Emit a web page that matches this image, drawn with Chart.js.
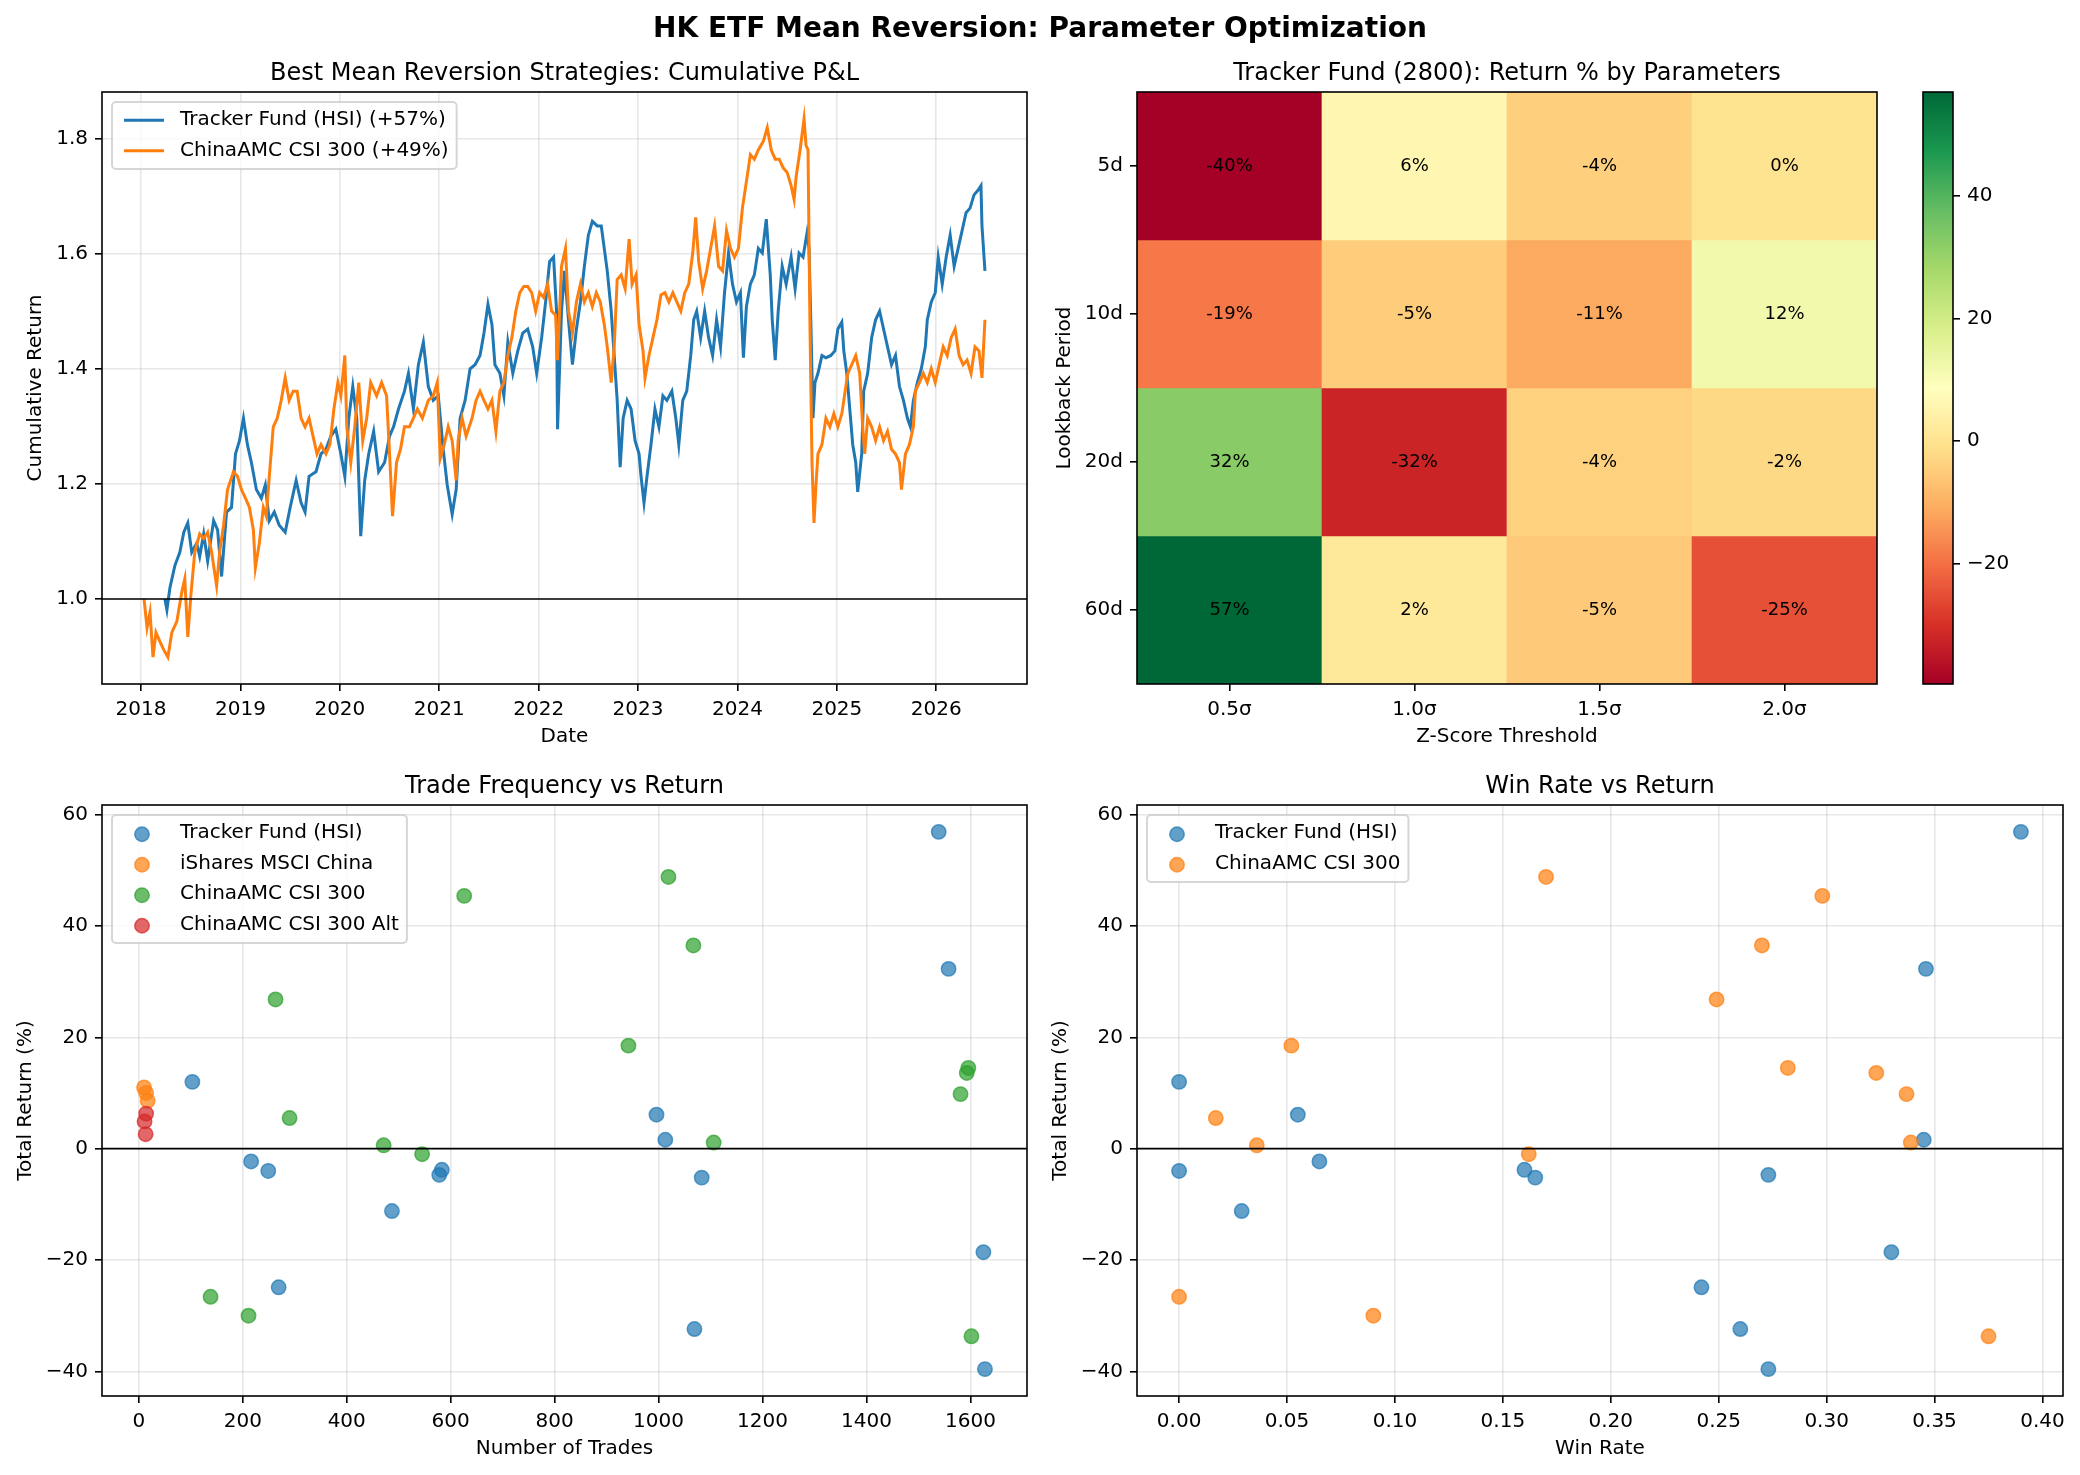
<!DOCTYPE html>
<html>
<head>
<meta charset="utf-8">
<title>HK ETF Mean Reversion: Parameter Optimization</title>
<script src="https://cdn.jsdelivr.net/npm/chart.js@4.4.1/dist/chart.umd.min.js"></script>
<style>
  body { margin: 0; background: #fff; }
  #fig { position: relative; width: 2080px; height: 1475px; }
  #fig canvas { position: absolute; left: 0; top: 0; }
</style>
</head>
<body>
<div id="fig">
  <canvas id="pnl" width="2080" height="1475"></canvas>
  <canvas id="heat" width="2080" height="1475"></canvas>
  <canvas id="cbar" width="2080" height="1475"></canvas>
  <canvas id="freq" width="2080" height="1475"></canvas>
  <canvas id="winrate" width="2080" height="1475"></canvas>
</div>
<script>
// ---- data ----

// cumulative P&L, [decimal year, cumulative return]
const trackerPnl = [
  [2018.24,1.000],[2018.26,0.981],[2018.29,1.019],[2018.34,1.058],[2018.39,1.081],[2018.43,1.116],[2018.47,1.132],
  [2018.51,1.081],[2018.56,1.097],[2018.59,1.074],[2018.63,1.113],[2018.67,1.066],[2018.73,1.136],[2018.77,1.120],
  [2018.81,1.039],[2018.86,1.151],[2018.91,1.159],[2018.95,1.252],[2018.99,1.275],[2019.03,1.314],[2019.07,1.268],
  [2019.11,1.237],[2019.16,1.190],[2019.21,1.175],[2019.25,1.198],[2019.29,1.136],[2019.34,1.151],[2019.39,1.128],
  [2019.45,1.116],[2019.50,1.159],[2019.56,1.206],[2019.61,1.167],[2019.65,1.151],[2019.69,1.213],[2019.76,1.221],
  [2019.81,1.252],[2019.86,1.260],[2019.91,1.283],[2019.96,1.295],[2020.01,1.252],[2020.05,1.213],[2020.09,1.314],
  [2020.13,1.369],[2020.17,1.314],[2020.21,1.109],[2020.25,1.206],[2020.29,1.252],[2020.34,1.291],[2020.39,1.221],
  [2020.45,1.237],[2020.50,1.283],[2020.54,1.299],[2020.59,1.330],[2020.65,1.361],[2020.69,1.392],[2020.74,1.330],
  [2020.79,1.407],[2020.84,1.446],[2020.89,1.369],[2020.94,1.345],[2020.99,1.353],[2021.04,1.260],[2021.08,1.198],
  [2021.13,1.147],[2021.17,1.190],[2021.21,1.314],[2021.26,1.345],[2021.31,1.400],[2021.36,1.407],[2021.41,1.423],
  [2021.45,1.462],[2021.49,1.512],[2021.53,1.477],[2021.56,1.407],[2021.61,1.392],[2021.65,1.353],[2021.69,1.446],
  [2021.74,1.392],[2021.79,1.431],[2021.84,1.462],[2021.89,1.469],[2021.94,1.438],[2021.98,1.392],[2022.03,1.454],
  [2022.07,1.516],[2022.11,1.586],[2022.15,1.594],[2022.18,1.500],[2022.19,1.295],[2022.23,1.500],[2022.26,1.570],
  [2022.30,1.485],[2022.34,1.407],[2022.38,1.469],[2022.42,1.516],[2022.46,1.578],[2022.50,1.632],[2022.54,1.656],
  [2022.59,1.648],[2022.63,1.648],[2022.66,1.609],[2022.69,1.570],[2022.73,1.500],[2022.76,1.423],[2022.79,1.345],
  [2022.82,1.229],[2022.85,1.314],[2022.89,1.345],[2022.93,1.330],[2022.97,1.275],[2023.01,1.252],[2023.03,1.213],
  [2023.06,1.167],[2023.09,1.213],[2023.13,1.268],[2023.17,1.330],[2023.21,1.299],[2023.25,1.353],[2023.29,1.345],
  [2023.34,1.361],[2023.38,1.314],[2023.41,1.268],[2023.45,1.345],[2023.49,1.361],[2023.53,1.423],[2023.56,1.485],
  [2023.59,1.500],[2023.63,1.454],[2023.67,1.500],[2023.71,1.454],[2023.75,1.423],[2023.79,1.485],[2023.83,1.438],
  [2023.87,1.532],[2023.91,1.601],[2023.95,1.547],[2023.99,1.516],[2024.03,1.532],[2024.06,1.419],[2024.09,1.508],
  [2024.13,1.547],[2024.17,1.563],[2024.21,1.609],[2024.25,1.601],[2024.29,1.660],[2024.33,1.563],[2024.35,1.485],
  [2024.38,1.415],[2024.41,1.500],[2024.45,1.578],[2024.49,1.547],[2024.54,1.594],[2024.58,1.539],[2024.62,1.601],
  [2024.66,1.594],[2024.70,1.636],[2024.72,1.609],[2024.74,1.469],[2024.76,1.314],[2024.78,1.376],[2024.81,1.392],
  [2024.85,1.423],[2024.89,1.419],[2024.94,1.423],[2024.98,1.431],[2025.01,1.469],[2025.05,1.481],[2025.07,1.431],
  [2025.10,1.392],[2025.13,1.330],[2025.16,1.268],[2025.19,1.237],[2025.21,1.186],[2025.25,1.252],[2025.27,1.361],
  [2025.31,1.392],[2025.35,1.454],[2025.39,1.485],[2025.43,1.500],[2025.47,1.469],[2025.51,1.438],[2025.55,1.407],
  [2025.59,1.423],[2025.63,1.369],[2025.67,1.345],[2025.71,1.314],[2025.74,1.299],[2025.77,1.345],[2025.81,1.376],
  [2025.85,1.400],[2025.89,1.438],[2025.91,1.485],[2025.95,1.516],[2025.99,1.532],[2026.02,1.594],[2026.06,1.547],
  [2026.10,1.594],[2026.14,1.632],[2026.18,1.578],[2026.22,1.609],[2026.26,1.640],[2026.30,1.671],[2026.34,1.679],
  [2026.38,1.702],[2026.42,1.710],[2026.45,1.718],[2026.46,1.648],[2026.49,1.570]
];
const csiPnl = [
  [2018.03,1.000],[2018.06,0.950],[2018.09,0.977],[2018.12,0.899],[2018.15,0.942],[2018.19,0.926],[2018.23,0.911],
  [2018.27,0.899],[2018.31,0.942],[2018.36,0.961],[2018.41,1.012],[2018.44,1.035],[2018.47,0.934],[2018.50,1.004],
  [2018.54,1.081],[2018.59,1.113],[2018.63,1.105],[2018.67,1.116],[2018.71,1.081],[2018.76,1.023],[2018.79,1.081],
  [2018.83,1.128],[2018.87,1.190],[2018.93,1.221],[2018.97,1.213],[2019.01,1.190],[2019.05,1.175],[2019.09,1.159],
  [2019.13,1.120],[2019.15,1.054],[2019.19,1.097],[2019.23,1.159],[2019.26,1.144],[2019.29,1.213],[2019.33,1.299],
  [2019.37,1.314],[2019.41,1.345],[2019.45,1.384],[2019.49,1.345],[2019.53,1.361],[2019.57,1.361],[2019.61,1.314],
  [2019.65,1.299],[2019.69,1.314],[2019.73,1.283],[2019.77,1.252],[2019.81,1.268],[2019.86,1.252],[2019.90,1.268],
  [2019.94,1.330],[2019.98,1.376],[2020.01,1.353],[2020.05,1.423],[2020.07,1.299],[2020.11,1.237],[2020.15,1.299],
  [2020.19,1.376],[2020.23,1.275],[2020.27,1.314],[2020.31,1.376],[2020.37,1.353],[2020.42,1.376],[2020.47,1.353],
  [2020.50,1.252],[2020.53,1.144],[2020.57,1.237],[2020.61,1.260],[2020.65,1.299],[2020.70,1.299],[2020.74,1.314],
  [2020.78,1.330],[2020.83,1.314],[2020.89,1.345],[2020.94,1.353],[2020.98,1.376],[2021.01,1.244],[2021.05,1.268],
  [2021.09,1.299],[2021.13,1.275],[2021.17,1.206],[2021.19,1.275],[2021.23,1.314],[2021.27,1.283],[2021.33,1.314],
  [2021.37,1.345],[2021.41,1.361],[2021.45,1.345],[2021.49,1.330],[2021.53,1.345],[2021.57,1.291],[2021.61,1.361],
  [2021.65,1.376],[2021.69,1.423],[2021.73,1.454],[2021.77,1.500],[2021.81,1.532],[2021.85,1.543],[2021.89,1.543],
  [2021.93,1.532],[2021.97,1.500],[2022.01,1.532],[2022.05,1.524],[2022.09,1.547],[2022.13,1.500],[2022.17,1.493],
  [2022.19,1.415],[2022.23,1.578],[2022.27,1.609],[2022.30,1.500],[2022.34,1.462],[2022.38,1.516],[2022.42,1.547],
  [2022.46,1.516],[2022.50,1.532],[2022.54,1.508],[2022.58,1.532],[2022.62,1.516],[2022.66,1.477],[2022.69,1.438],
  [2022.73,1.376],[2022.76,1.438],[2022.79,1.555],[2022.83,1.563],[2022.87,1.539],[2022.91,1.625],[2022.94,1.547],
  [2022.98,1.563],[2023.01,1.477],[2023.05,1.431],[2023.07,1.384],[2023.11,1.423],[2023.15,1.454],[2023.19,1.485],
  [2023.23,1.528],[2023.27,1.532],[2023.31,1.516],[2023.35,1.532],[2023.39,1.516],[2023.43,1.500],[2023.47,1.532],
  [2023.51,1.547],[2023.55,1.601],[2023.58,1.663],[2023.61,1.586],[2023.65,1.539],[2023.69,1.570],[2023.73,1.609],
  [2023.77,1.648],[2023.81,1.578],[2023.85,1.570],[2023.89,1.640],[2023.93,1.609],[2023.97,1.594],[2024.01,1.609],
  [2024.05,1.679],[2024.09,1.725],[2024.13,1.772],[2024.17,1.764],[2024.21,1.780],[2024.26,1.795],[2024.30,1.819],
  [2024.34,1.780],[2024.38,1.764],[2024.42,1.764],[2024.46,1.749],[2024.50,1.741],[2024.54,1.718],[2024.57,1.694],
  [2024.59,1.733],[2024.63,1.780],[2024.67,1.834],[2024.69,1.788],[2024.71,1.780],[2024.73,1.469],[2024.75,1.237],
  [2024.77,1.132],[2024.79,1.198],[2024.81,1.252],[2024.85,1.268],[2024.89,1.314],[2024.93,1.299],[2024.97,1.322],
  [2025.01,1.299],[2025.05,1.322],[2025.07,1.345],[2025.11,1.392],[2025.15,1.407],[2025.19,1.423],[2025.23,1.392],
  [2025.26,1.299],[2025.28,1.252],[2025.31,1.314],[2025.35,1.299],[2025.39,1.275],[2025.43,1.299],[2025.47,1.275],
  [2025.51,1.291],[2025.55,1.260],[2025.59,1.252],[2025.63,1.237],[2025.65,1.190],[2025.69,1.252],[2025.73,1.268],
  [2025.77,1.299],[2025.79,1.361],[2025.83,1.376],[2025.87,1.392],[2025.91,1.376],[2025.95,1.400],[2025.99,1.376],
  [2026.03,1.407],[2026.07,1.438],[2026.11,1.423],[2026.15,1.454],[2026.19,1.469],[2026.23,1.423],[2026.27,1.407],
  [2026.31,1.415],[2026.35,1.392],[2026.39,1.438],[2026.43,1.431],[2026.46,1.384],[2026.49,1.485]
];

// parameter grid (Tracker Fund 2800), total return %
const lookbacks = ['5d', '10d', '20d', '60d'];
const zThresholds = ['0.5σ', '1.0σ', '1.5σ', '2.0σ'];
const heatReturns = [
  [-39.6, 6.1, -4.0, 0.0],
  [-18.6, -4.7, -11.2, 12.0],
  [32.3, -32.4, -3.8, -2.3],
  [56.9, 1.6, -5.2, -24.9]
];

// per-strategy results
const trackerTrades = [103, 216, 249, 269, 487, 578, 583, 996, 1013, 1069, 1083, 1539, 1558, 1625, 1628];
const trackerWinRate = [0.000, 0.065, 0.000, 0.242, 0.029, 0.273, 0.160, 0.055, 0.345, 0.260, 0.165, 0.390, 0.346, 0.330, 0.273];
const trackerReturn = [12.0, -2.3, -4.0, -24.9, -11.2, -4.7, -3.8, 6.1, 1.6, -32.4, -5.2, 56.9, 32.3, -18.6, -39.6];

const csiTrades = [138, 211, 263, 290, 471, 545, 626, 942, 1019, 1067, 1106, 1581, 1593, 1596, 1602];
const csiWinRate = [0.000, 0.090, 0.249, 0.017, 0.036, 0.162, 0.298, 0.052, 0.170, 0.270, 0.339, 0.337, 0.323, 0.282, 0.375];
const csiReturn = [-26.6, -30.0, 26.8, 5.5, 0.6, -1.0, 45.4, 18.5, 48.8, 36.5, 1.1, 9.8, 13.6, 14.5, -33.7];

const isharesTrades = [10, 14, 17];
const isharesReturn = [11.0, 10.0, 8.6];

const csiAltTrades = [14, 11, 13];
const csiAltReturn = [6.3, 4.9, 2.6];

// tick labels
const yearTicks = [2018, 2019, 2020, 2021, 2022, 2023, 2024, 2025, 2026];
const pnlTicks = [1.0, 1.2, 1.4, 1.6, 1.8];
const tradeTicks = [0, 200, 400, 600, 800, 1000, 1200, 1400, 1600];
const returnTicks = [-40, -20, 0, 20, 40, 60];
const winTicks = [0, 0.05, 0.10, 0.15, 0.20, 0.25, 0.30, 0.35, 0.40];
const cbarTicks = [-20, 0, 20, 40];
const cellTicks = [0.5, 1.5, 2.5, 3.5];

// ---- styling helpers ----
Chart.defaults.font.family = "'DejaVu Sans', sans-serif";
Chart.defaults.font.size = 20;
Chart.defaults.color = '#000';

const BLUE = '#1f77b4', ORANGE = '#ff7f0e';
const GRID = 'rgba(176,176,176,0.3)';
const RDYLGN = ['#a50026', '#d73027', '#f46d43', '#fdae61', '#fee08b', '#ffffbf',
                '#d9ef8b', '#a6d96a', '#66bd63', '#1a9850', '#006837'];

function hexRgb(h) {
  return [1, 3, 5].map(i => parseInt(h.slice(i, i + 2), 16));
}
function rgba(h, a) {
  const [r, g, b] = hexRgb(h);
  return `rgba(${r},${g},${b},${a})`;
}
function cmap(t) {
  t = Math.max(0, Math.min(1, t));
  const p = t * 10, i = Math.min(Math.floor(p), 9), f = p - i;
  const a = hexRgb(RDYLGN[i]), b = hexRgb(RDYLGN[i + 1]);
  const c = a.map((v, k) => Math.round(v + (b[k] - v) * f));
  return `rgb(${c[0]},${c[1]},${c[2]})`;
}
function padRange(vals, frac = 0.05) {
  const lo = Math.min(...vals), hi = Math.max(...vals), m = (hi - lo) * frac;
  return [lo - m, hi + m];
}
const minus = v => (v < 0 ? '\u2212' + Math.abs(v) : String(v));

function mplAxis({type = 'linear', min, max, ticks, fmt, size, horizontal = false, title, grid = true}) {
  const cfg = {
    type, min, max,
    grid: { display: true, drawOnChartArea: grid, color: GRID, lineWidth: 1.6,
            tickColor: '#000', tickWidth: 1.6, tickLength: 7, offset: false },
    border: { display: false },
    ticks: { padding: 7, autoSkip: false, maxRotation: 0, font: { size: 20 } },
    title: { display: !!title, text: title || '', padding: 0, font: { size: 20 } },
    afterFit: s => { if (horizontal) s.height = size; else s.width = size; }
  };
  if (ticks) cfg.afterBuildTicks = s => { s.ticks = ticks.map(v => ({ value: v })); };
  if (fmt) cfg.ticks.callback = fmt;
  return cfg;
}

// legend in matplotlib style, upper left inside the axes
function drawLegend(chart, ctx, ca, kind) {
  const fs = 20;
  const sets = chart.data.datasets.filter(d => d.label);
  ctx.font = fs + 'px "DejaVu Sans"';
  const tw = Math.max(...sets.map(d => ctx.measureText(d.label).width));
  const pad = 8, rowH = 20.5, gap = 10, textX = 68;
  const x0 = ca.left + 10, y0 = ca.top + 10;
  const w = textX + tw + pad, h = 2 * pad + sets.length * rowH + (sets.length - 1) * gap;
  ctx.beginPath();
  ctx.roundRect(x0, y0, w, h, 4);
  ctx.fillStyle = 'rgba(255,255,255,0.8)';
  ctx.fill();
  ctx.strokeStyle = 'rgba(204,204,204,0.8)';
  ctx.lineWidth = 2;
  ctx.stroke();
  sets.forEach((d, i) => {
    const cy = y0 + pad + i * (rowH + gap) + rowH / 2;
    if (kind === 'line') {
      ctx.strokeStyle = d.borderColor;
      ctx.lineWidth = d.borderWidth;
      ctx.beginPath();
      ctx.moveTo(x0 + pad + 4, cy);
      ctx.lineTo(x0 + pad + 44, cy);
      ctx.stroke();
    } else {
      ctx.beginPath();
      ctx.arc(x0 + 30, cy + 1, d.pointRadius, 0, Math.PI * 2);
      ctx.fillStyle = d.backgroundColor;
      ctx.fill();
      ctx.strokeStyle = d.borderColor;
      ctx.lineWidth = d.borderWidth;
      ctx.stroke();
    }
    ctx.fillStyle = '#000';
    ctx.textAlign = 'left';
    ctx.textBaseline = 'middle';
    ctx.fillText(d.label, x0 + textX, cy);
  });
}

// reference line, spines, legend, titles
const decor = {
  id: 'decor',
  afterDatasetsDraw(chart, args, o) {
    const ctx = chart.ctx, ca = chart.chartArea;
    ctx.save();
    if (o.refY !== undefined) {
      const y = chart.scales.y.getPixelForValue(o.refY);
      ctx.strokeStyle = '#000';
      ctx.lineWidth = 1.6;
      ctx.beginPath();
      ctx.moveTo(ca.left, y);
      ctx.lineTo(ca.right, y);
      ctx.stroke();
    }
    ctx.strokeStyle = '#000';
    ctx.lineWidth = 1.6;
    ctx.strokeRect(ca.left, ca.top, ca.right - ca.left, ca.bottom - ca.top);
    if (o.legend) drawLegend(chart, ctx, ca, o.legend);
    ctx.fillStyle = '#000';
    ctx.textAlign = 'center';
    ctx.textBaseline = 'alphabetic';
    if (o.title) {
      ctx.font = '24px "DejaVu Sans"';
      ctx.fillText(o.title, (ca.left + ca.right) / 2, ca.top - 12);
    }
    if (o.suptitle) {
      ctx.font = 'bold 28px "DejaVu Sans"';
      ctx.fillText(o.suptitle, chart.width / 2, 37);
    }
    ctx.restore();
  }
};

const heatVals = heatReturns.flat();
const vmin = Math.min(...heatVals), vmax = Math.max(...heatVals);

const heatLabels = {
  id: 'heatLabels',
  afterDatasetsDraw(chart) {
    const ctx = chart.ctx;
    ctx.save();
    ctx.font = '18px "DejaVu Sans"';
    ctx.fillStyle = '#000';
    ctx.textAlign = 'center';
    ctx.textBaseline = 'middle';
    chart.data.datasets.forEach((ds, r) => {
      chart.getDatasetMeta(r).data.forEach((bar, c) => {
        ctx.fillText(heatReturns[r][c].toFixed(0) + '%', bar.x, (bar.y + bar.base) / 2);
      });
    });
    ctx.restore();
  }
};

const cbarFill = {
  id: 'cbarFill',
  beforeDatasetsDraw(chart) {
    const ctx = chart.ctx, ca = chart.chartArea;
    const g = ctx.createLinearGradient(0, ca.bottom, 0, ca.top);
    RDYLGN.forEach((c, i) => g.addColorStop(i / 10, c));
    ctx.save();
    ctx.fillStyle = g;
    ctx.fillRect(ca.left, ca.top, ca.right - ca.left, ca.bottom - ca.top);
    ctx.restore();
  }
};

const base = {
  responsive: false,
  animation: false,
  devicePixelRatio: 1,
  events: []
};

// ---- top left: cumulative P&L ----
const pnlX = padRange([...trackerPnl, ...csiPnl].map(p => p[0]));
const pnlY = padRange([...trackerPnl, ...csiPnl].map(p => p[1]));

new Chart(document.getElementById('pnl'), {
  type: 'line',
  data: {
    datasets: [
      { label: 'Tracker Fund (HSI) (+57%)', data: trackerPnl.map(([x, y]) => ({ x, y })),
        borderColor: BLUE, borderWidth: 3, pointRadius: 0, tension: 0, order: 1 },
      { label: 'ChinaAMC CSI 300 (+49%)', data: csiPnl.map(([x, y]) => ({ x, y })),
        borderColor: ORANGE, borderWidth: 3, pointRadius: 0, tension: 0, order: 0 }
    ]
  },
  options: {
    ...base,
    layout: { padding: { left: 24, right: 1053, top: 92, bottom: 726 } },
    plugins: {
      legend: { display: false }, tooltip: { enabled: false },
      decor: { refY: 1, legend: 'line', title: 'Best Mean Reversion Strategies: Cumulative P&L',
               suptitle: 'HK ETF Mean Reversion: Parameter Optimization' }
    },
    scales: {
      x: mplAxis({ min: pnlX[0], max: pnlX[1], ticks: yearTicks, fmt: v => String(v),
                   size: 65, horizontal: true, title: 'Date' }),
      y: mplAxis({ min: pnlY[0], max: pnlY[1], ticks: pnlTicks, fmt: v => v.toFixed(1),
                   size: 78, title: 'Cumulative Return' })
    }
  },
  plugins: [decor]
});

// ---- top right: parameter heatmap ----
const heatY = mplAxis({ min: 0, max: 4, ticks: cellTicks, fmt: v => lookbacks[Math.floor(v)],
                        size: 84, title: 'Lookback Period', grid: false });
heatY.reverse = true;
const heatX = mplAxis({ type: 'category', size: 65, horizontal: true, title: 'Z-Score Threshold', grid: false });
heatX.offset = true;

new Chart(document.getElementById('heat'), {
  type: 'bar',
  data: {
    labels: zThresholds,
    datasets: heatReturns.map((row, r) => ({
      label: lookbacks[r],
      data: row.map(() => [r, r + 1]),
      backgroundColor: row.map(v => cmap((v - vmin) / (vmax - vmin))),
      borderWidth: 0,
      barPercentage: 1,
      categoryPercentage: 1,
      grouped: false
    }))
  },
  options: {
    ...base,
    layout: { padding: { left: 1053, right: 203, top: 92, bottom: 726 } },
    plugins: {
      legend: { display: false }, tooltip: { enabled: false },
      decor: { title: 'Tracker Fund (2800): Return % by Parameters' }
    },
    scales: { x: heatX, y: heatY }
  },
  plugins: [decor, heatLabels]
});

// colorbar
const cbarY = mplAxis({ min: vmin, max: vmax, ticks: cbarTicks, fmt: minus, size: 60, grid: false });
cbarY.position = 'right';

new Chart(document.getElementById('cbar'), {
  type: 'scatter',
  data: { datasets: [] },
  options: {
    ...base,
    layout: { padding: { left: 1923, right: 67, top: 92, bottom: 791 } },
    plugins: { legend: { display: false }, tooltip: { enabled: false }, decor: {} },
    scales: { x: { display: false, min: 0, max: 1 }, y: cbarY }
  },
  plugins: [cbarFill, decor]
});

// ---- bottom row: scatter plots ----
function scatterSet(label, color, xs, ys, order) {
  const c = rgba(color, 0.7);
  return { label, data: xs.map((x, i) => ({ x, y: ys[i] })), backgroundColor: c, borderColor: c,
           pointRadius: 7.2, borderWidth: 1.5, pointBorderWidth: 1.5, showLine: false, order };
}

const freqX = padRange([...trackerTrades, ...isharesTrades, ...csiTrades, ...csiAltTrades]);
const freqY = padRange([...trackerReturn, ...isharesReturn, ...csiReturn, ...csiAltReturn]);

new Chart(document.getElementById('freq'), {
  type: 'scatter',
  data: {
    datasets: [
      scatterSet('Tracker Fund (HSI)', '#1f77b4', trackerTrades, trackerReturn, 4),
      scatterSet('iShares MSCI China', '#ff7f0e', isharesTrades, isharesReturn, 3),
      scatterSet('ChinaAMC CSI 300', '#2ca02c', csiTrades, csiReturn, 2),
      scatterSet('ChinaAMC CSI 300 Alt', '#d62728', csiAltTrades, csiAltReturn, 1)
    ]
  },
  options: {
    ...base,
    layout: { padding: { left: 14, right: 1053, top: 805, bottom: 14 } },
    plugins: {
      legend: { display: false }, tooltip: { enabled: false },
      decor: { refY: 0, legend: 'marker', title: 'Trade Frequency vs Return' }
    },
    scales: {
      x: mplAxis({ min: freqX[0], max: freqX[1], ticks: tradeTicks, fmt: v => String(v),
                   size: 65, horizontal: true, title: 'Number of Trades' }),
      y: mplAxis({ min: freqY[0], max: freqY[1], ticks: returnTicks, fmt: minus,
                   size: 88, title: 'Total Return (%)' })
    }
  },
  plugins: [decor]
});

const winX = padRange([...trackerWinRate, ...csiWinRate]);
const winY = padRange([...trackerReturn, ...csiReturn]);

new Chart(document.getElementById('winrate'), {
  type: 'scatter',
  data: {
    datasets: [
      scatterSet('Tracker Fund (HSI)', '#1f77b4', trackerWinRate, trackerReturn, 2),
      scatterSet('ChinaAMC CSI 300', '#ff7f0e', csiWinRate, csiReturn, 1)
    ]
  },
  options: {
    ...base,
    layout: { padding: { left: 1049, right: 17, top: 805, bottom: 14 } },
    plugins: {
      legend: { display: false }, tooltip: { enabled: false },
      decor: { refY: 0, legend: 'marker', title: 'Win Rate vs Return' }
    },
    scales: {
      x: mplAxis({ min: winX[0], max: winX[1], ticks: winTicks, fmt: v => v.toFixed(2),
                   size: 65, horizontal: true, title: 'Win Rate' }),
      y: mplAxis({ min: winY[0], max: winY[1], ticks: returnTicks, fmt: minus,
                   size: 88, title: 'Total Return (%)' })
    }
  },
  plugins: [decor]
});
</script>
</body>
</html>
